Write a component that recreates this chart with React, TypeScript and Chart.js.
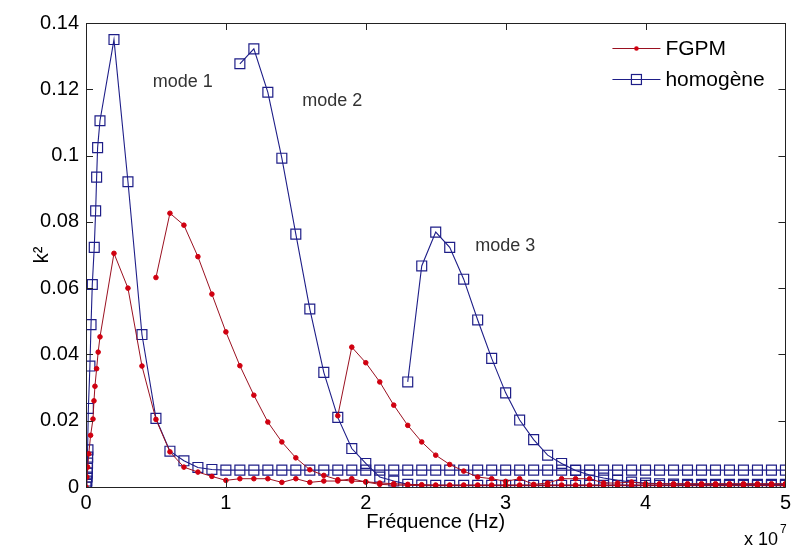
import { useEffect, useRef } from 'react';
import { Chart, registerables } from 'chart.js';

Chart.register(...registerables);

// Frequency axis (x 10^7 Hz)
const coarseFreq = [
  0.1, 0.2, 0.3, 0.4, 0.5, 0.6, 0.7, 0.8, 0.9, 1.0,
  1.1, 1.2, 1.3, 1.4, 1.5, 1.6, 1.7, 1.8, 1.9, 2.0,
  2.1, 2.2, 2.3, 2.4, 2.5, 2.6, 2.7, 2.8, 2.9, 3.0,
  3.1, 3.2, 3.3, 3.4, 3.5, 3.6, 3.7, 3.8, 3.9, 4.0,
  4.1, 4.2, 4.3, 4.4, 4.5, 4.6, 4.7, 4.8, 4.9, 5.0,
];

// Homogeneous, mode 1: dense points near zero then coarse grid from 0.1
const homMode1NearFreq = [0, 0.004, 0.006, 0.008, 0.009, 0.010, 0.011, 0.012, 0.014, 0.017, 0.028, 0.036, 0.045, 0.059, 0.069, 0.076, 0.083];
const homMode1NearK2 = [0, 0.0008, 0.0018, 0.003, 0.0042, 0.0056, 0.0072, 0.009, 0.0112, 0.0237, 0.0365, 0.049, 0.0611, 0.0723, 0.0833, 0.0935, 0.1024];
const homMode1K2 = [
  0.1105, 0.135, 0.0921, 0.046, 0.0207, 0.0108, 0.0079, 0.0059, 0.0053, 0.0051,
  0.0051, 0.0051, 0.0051, 0.0051, 0.0051, 0.0051, 0.0051, 0.0051, 0.0051, 0.0051,
  0.0051, 0.0051, 0.0051, 0.0051, 0.0051, 0.0051, 0.0051, 0.0051, 0.0051, 0.0051,
  0.0051, 0.0051, 0.0051, 0.0051, 0.0051, 0.0051, 0.0051, 0.0051, 0.0051, 0.0051,
  0.0051, 0.0051, 0.0051, 0.0051, 0.0051, 0.0051, 0.0051, 0.0051, 0.0051, 0.0051,
];

// Homogeneous, mode 2: from 1.1
const homMode2K2 = [
  0.1277, 0.1322, 0.1191, 0.0992, 0.0763, 0.0537, 0.0346, 0.021, 0.0116, 0.0071,
  0.003, 0.0018, 0.0008, 0.0006, 0.0005, 0.0005, 0.0005, 0.0005, 0.0005, 0.0005,
  0.0005, 0.0005, 0.0005, 0.0005, 0.0005, 0.0005, 0.0005, 0.0005, 0.0005, 0.0005,
  0.0005, 0.0005, 0.0005, 0.0005, 0.0005, 0.0005, 0.0005, 0.0005, 0.0005, 0.0005,
];

// Homogeneous, mode 3: from 2.3
const homMode3K2 = [
  0.0317, 0.0667, 0.0769, 0.0723, 0.0627, 0.0504, 0.0388, 0.0284, 0.0202, 0.0143,
  0.0096, 0.0071, 0.005, 0.0036, 0.0027, 0.002, 0.0015, 0.0012, 0.001, 0.0009,
  0.0008, 0.0008, 0.0008, 0.0008, 0.0008, 0.0008, 0.0008, 0.0008,
];

// FGPM, mode 1: dense points near zero then coarse grid from 0.2
const fgpmMode1NearFreq = [0, 0.006, 0.012, 0.02, 0.033, 0.05, 0.057, 0.064, 0.076, 0.087, 0.1];
const fgpmMode1NearK2 = [0, 0.003, 0.006, 0.01, 0.0156, 0.0205, 0.026, 0.0304, 0.0357, 0.0407, 0.0453];
const fgpmMode1K2 = [
  0.0705, 0.06, 0.0365, 0.0204, 0.0106, 0.006, 0.0045, 0.0032, 0.002,
  0.0025, 0.0025, 0.0025, 0.0014, 0.0025, 0.0014, 0.0018, 0.0018, 0.0025, 0.0015,
  0.0008, 0.0006, 0.0005, 0.0004, 0.0004, 0.0004, 0.0004, 0.0004, 0.0004, 0.0004,
  0.0004, 0.0004, 0.0004, 0.0004, 0.0004, 0.0004, 0.0004, 0.0004, 0.0004, 0.0004,
  0.0004, 0.0004, 0.0004, 0.0004, 0.0004, 0.0004, 0.0004, 0.0004, 0.0004, 0.0004,
];

// FGPM, mode 2: from 0.5
const fgpmMode2K2 = [
  0.0632, 0.0826, 0.079, 0.0695, 0.0582, 0.0468,
  0.0366, 0.0277, 0.0196, 0.0136, 0.0088, 0.0052, 0.0035, 0.0022, 0.0018, 0.0016,
  0.0012, 0.001, 0.0008, 0.0007, 0.0006, 0.0006, 0.0006, 0.0006, 0.0006, 0.0006,
  0.0006, 0.0006, 0.0006, 0.0006, 0.0006, 0.0006, 0.0006, 0.0006, 0.0006, 0.0006,
  0.0006, 0.0006, 0.0006, 0.0006, 0.0006, 0.0006, 0.0006, 0.0006, 0.0006, 0.0006,
];

// FGPM, mode 3: from 1.8
const fgpmMode3K2 = [
  0.0215, 0.0422, 0.0375,
  0.0317, 0.0247, 0.0186, 0.0136, 0.0096, 0.0068, 0.0048, 0.003, 0.0025, 0.0017,
  0.0025, 0.0008, 0.0012, 0.0025, 0.0025, 0.0025, 0.0012, 0.0012, 0.0015, 0.001,
  0.001, 0.001, 0.001, 0.001, 0.001, 0.001, 0.001, 0.001, 0.001, 0.001,
];

const xTicks = [0, 1, 2, 3, 4, 5];
const yTicks = [0, 0.02, 0.04, 0.06, 0.08, 0.1, 0.12, 0.14];

const legendLabels = ['FGPM', 'homogène'];
const modeLabels = [
  { text: 'mode 1', x: 0.477, y: 0.1208 },
  { text: 'mode 2', x: 1.546, y: 0.115 },
  { text: 'mode 3', x: 2.783, y: 0.0713 },
];

const FONT = '"Liberation Sans", Arial, Helvetica, sans-serif';
const RED_LINE = '#9a1020';
const RED_PT = '#d00010';
const BLUE = '#1e1e88';

function zip(xs: number[], ys: number[]) {
  return ys.map((y, i) => ({ x: xs[i], y }));
}

export default function App() {
  const ref = useRef<HTMLCanvasElement | null>(null);

  useEffect(() => {
    if (!ref.current) return;
    const fgpmStyle = {
      borderColor: RED_LINE,
      borderWidth: 1,
      pointStyle: 'circle' as const,
      pointRadius: 2.3,
      pointBackgroundColor: RED_PT,
      pointBorderColor: RED_PT,
      pointBorderWidth: 1,
      showLine: true,
      tension: 0,
    };
    const homStyle = {
      borderColor: BLUE,
      borderWidth: 1.1,
      pointStyle: 'rect' as const,
      pointRadius: 7,
      pointBackgroundColor: 'rgba(0,0,0,0)',
      pointBorderColor: BLUE,
      pointBorderWidth: 1.2,
      showLine: true,
      tension: 0,
    };

    const datasets = [
      { label: 'FGPM', data: zip(fgpmMode1NearFreq.concat(coarseFreq.slice(1)), fgpmMode1NearK2.concat(fgpmMode1K2)), ...fgpmStyle },
      { label: 'FGPM m2', data: zip(coarseFreq.slice(4), fgpmMode2K2), ...fgpmStyle },
      { label: 'FGPM m3', data: zip(coarseFreq.slice(17), fgpmMode3K2), ...fgpmStyle },
      { label: 'homogène', data: zip(homMode1NearFreq.concat(coarseFreq), homMode1NearK2.concat(homMode1K2)), ...homStyle },
      { label: 'homogène m2', data: zip(coarseFreq.slice(10), homMode2K2), ...homStyle },
      { label: 'homogène m3', data: zip(coarseFreq.slice(22), homMode3K2), ...homStyle },
    ];

    const framePlugin = {
      id: 'matlabFrame',
      afterDatasetsDraw(chart: any) {
        const { ctx, chartArea: a, scales } = chart;
        const xs = scales.x;
        const ys = scales.y;
        ctx.save();
        ctx.strokeStyle = '#222';
        ctx.lineWidth = 1;
        ctx.beginPath();
        ctx.rect(Math.round(a.left) + 0.5, Math.round(a.top) + 0.5, Math.round(a.right - a.left), Math.round(a.bottom - a.top));
        ctx.stroke();
        const tl = 7;
        ctx.beginPath();
        xTicks.forEach((v) => {
          const px = Math.round(xs.getPixelForValue(v)) + 0.5;
          ctx.moveTo(px, a.bottom);
          ctx.lineTo(px, a.bottom - tl);
          ctx.moveTo(px, a.top);
          ctx.lineTo(px, a.top + tl);
        });
        yTicks.forEach((v) => {
          const py = Math.round(ys.getPixelForValue(v)) + 0.5;
          ctx.moveTo(a.left, py);
          ctx.lineTo(a.left + tl, py);
          ctx.moveTo(a.right, py);
          ctx.lineTo(a.right - tl, py);
        });
        ctx.stroke();

        // mode annotations
        ctx.fillStyle = '#333';
        ctx.font = `18px ${FONT}`;
        ctx.textAlign = 'left';
        ctx.textBaseline = 'alphabetic';
        modeLabels.forEach((m) => {
          ctx.fillText(m.text, xs.getPixelForValue(m.x), ys.getPixelForValue(m.y));
        });

        // legend
        const lx0 = a.right - 173;
        const lx1 = lx0 + 48;
        const ly = [a.top + 25, a.top + 56];
        ctx.lineWidth = 1;
        ctx.strokeStyle = RED_LINE;
        ctx.beginPath();
        ctx.moveTo(lx0, ly[0] + 0.5);
        ctx.lineTo(lx1, ly[0] + 0.5);
        ctx.stroke();
        ctx.fillStyle = RED_PT;
        ctx.beginPath();
        ctx.arc((lx0 + lx1) / 2, ly[0] + 0.5, 2.3, 0, Math.PI * 2);
        ctx.fill();
        ctx.strokeStyle = BLUE;
        ctx.beginPath();
        ctx.moveTo(lx0, ly[1] + 0.5);
        ctx.lineTo(lx1, ly[1] + 0.5);
        ctx.stroke();
        ctx.lineWidth = 1.2;
        ctx.strokeRect((lx0 + lx1) / 2 - 5, ly[1] - 4.5, 10, 10);
        ctx.fillStyle = '#000';
        ctx.font = `21px ${FONT}`;
        ctx.textBaseline = 'middle';
        ctx.fillText(legendLabels[0], lx1 + 5, ly[0] + 1);
        ctx.fillText(legendLabels[1], lx1 + 5, ly[1] + 1);

        // exponent
        ctx.textBaseline = 'alphabetic';
        ctx.textAlign = 'right';
        ctx.font = `18px ${FONT}`;
        ctx.fillText('x 10', 778, 545);
        ctx.textAlign = 'left';
        ctx.font = `12px ${FONT}`;
        ctx.fillText('7', 780, 533);
        ctx.restore();
      },
    };

    const chart = new Chart(ref.current, {
      type: 'scatter',
      data: { datasets: datasets as any },
      options: {
        animation: false,
        responsive: true,
        maintainAspectRatio: false,
        layout: { padding: { top: 23, right: 7, left: 0, bottom: 0 } },
        plugins: { legend: { display: false }, tooltip: { enabled: false } },
        scales: {
          x: {
            type: 'linear',
            min: 0,
            max: 5,
            afterBuildTicks: (s: any) => { s.ticks = xTicks.map((v) => ({ value: v })); },
            ticks: { color: '#000', font: { size: 20, family: FONT }, padding: 4, maxRotation: 0, autoSkip: false, callback: (v: any) => String(v) },
            grid: { display: false, drawTicks: false },
            border: { display: false },
            title: { display: true, text: 'Fréquence (Hz)', color: '#000', font: { size: 20, family: FONT }, padding: { top: 14, bottom: 14 } },
            afterFit: (s: any) => { s.height = 61; },
          },
          y: {
            type: 'linear',
            min: 0,
            max: 0.14,
            afterBuildTicks: (s: any) => { s.ticks = yTicks.map((v) => ({ value: v })); },
            ticks: { color: '#000', font: { size: 20, family: FONT }, padding: 7, autoSkip: false, callback: (v: any) => String(+Number(v).toFixed(2)) },
            grid: { display: false, drawTicks: false },
            border: { display: false },
            title: { display: true, text: 'k²', color: '#000', font: { size: 20, family: FONT }, padding: { top: 30, bottom: 30 } },
            afterFit: (s: any) => { s.width = 86; },
          },
        },
      },
      plugins: [framePlugin],
    });
    return () => chart.destroy();
  }, []);

  return (
    <div style={{ position: 'fixed', left: 0, top: 0, width: 795, height: 548, background: '#fff' }}>
      <canvas ref={ref} />
    </div>
  );
}
